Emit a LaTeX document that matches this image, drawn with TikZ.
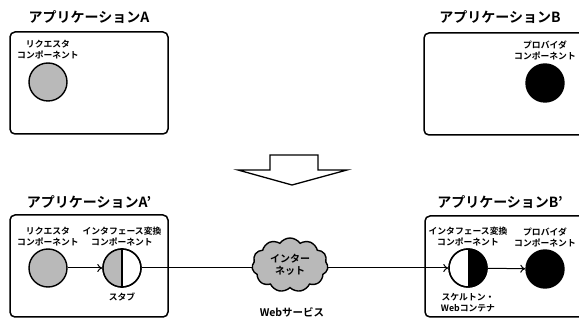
\documentclass[tikz,border=0pt]{standalone}
\usepackage{fontspec}
\setmainfont{Noto Sans CJK JP}[BoldFont={Noto Sans CJK JP Bold}]
\usetikzlibrary{shapes.symbols,arrows.meta}
\tikzset{
  appbox/.style={draw,line width=1.5pt,rounded corners=5pt},
  apptitle/.style={font=\fontsize{14}{16}\selectfont\bfseries,inner sep=0pt},
  lbl/.style={font=\fontsize{8.8}{11}\selectfont\bfseries,align=center,inner sep=0pt},
  comp/.style={circle,draw,line width=1.4pt,minimum size=38pt,inner sep=0pt},
  req/.style={comp,fill=gray!55},
  prov/.style={comp,fill=black},
  conn/.style={line width=1pt,-{To[length=5pt,width=8pt]}},
}
\begin{document}
\begin{tikzpicture}[x=1pt,y=-1pt]
\useasboundingbox (0,0) rectangle (579,323);
\clip (0,0) rectangle (579,323);
% top row
\node[apptitle] (tA) at (89,17) {アプリケーションA};
\draw[appbox] (10,32) rectangle (168,134);
\node[lbl] (lA) at (48,50) {リクエスタ\\コンポーネント};
\node[req] (cA) at (48,82) {};
\node[apptitle] (tB) at (500,17) {アプリケーションB};
\draw[appbox] (424,33) rectangle (600,135);
\node[lbl] (lB) at (545,50) {プロバイダ\\コンポーネント};
\node[prov] (cB) at (545,83) {};
% big arrow
\draw[line width=1.3pt,fill=white,line join=miter] (270,155) -- (318,155) -- (318,170) -- (347,170) -- (292,185) -- (238,170) -- (270,170) -- cycle;
% bottom left
\node[apptitle] (tA2) at (89,202) {アプリケーションA’};
\draw[appbox] (10,215) rectangle (168,317);
\node[lbl] (lA2) at (48,237) {リクエスタ\\コンポーネント};
\node[req] (cA2) at (48,268) {};
\node[lbl] (lI1) at (122,237) {インタフェース変換\\コンポーネント};
\node[comp] (stub) at (122,268) {};
\fill[gray!55] (122,249) arc (90:270:19pt) -- cycle;
\draw[line width=1.4pt] (stub.center) circle (19pt);
\draw[line width=1.4pt] (stub.north) -- (stub.south);
\node[lbl] (lstub) at (122,297) {スタブ};
\draw[conn] (cA2) -- (stub);
% bottom right
\node[apptitle] (tB2) at (500,202) {アプリケーションB’};
\draw[appbox] (425,216) rectangle (600,317);
\node[lbl] (lI2) at (468,237) {インタフェース変換\\コンポーネント};
\node[comp] (skel) at (468,268) {};
\fill[black] (468,249) arc (90:-90:19pt) -- cycle;
\draw[line width=1.4pt] (skel.center) circle (19pt);
\node[lbl] (lskel) at (468,303) {スケルトン・\\Webコンテナ};
\node[lbl] (lB2) at (545,237) {プロバイダ\\コンポーネント};
\node[prov] (cB2) at (545,269) {};
\draw[conn] (skel) -- (cB2);
% connection via internet
\draw[conn] (stub) -- (skel);
\node[cloud,cloud puffs=11,cloud puff arc=110,aspect=1.4,draw,line width=1.4pt,fill=gray!55,minimum width=76pt,minimum height=54pt,inner sep=0pt,lbl,font=\fontsize{10}{12}\selectfont\bfseries] (net) at (290,265) {インター\\ネット};
\node[lbl,font=\fontsize{10.5}{12}\selectfont\bfseries] (ws) at (292,312) {Webサービス};
\end{tikzpicture}
\end{document}
